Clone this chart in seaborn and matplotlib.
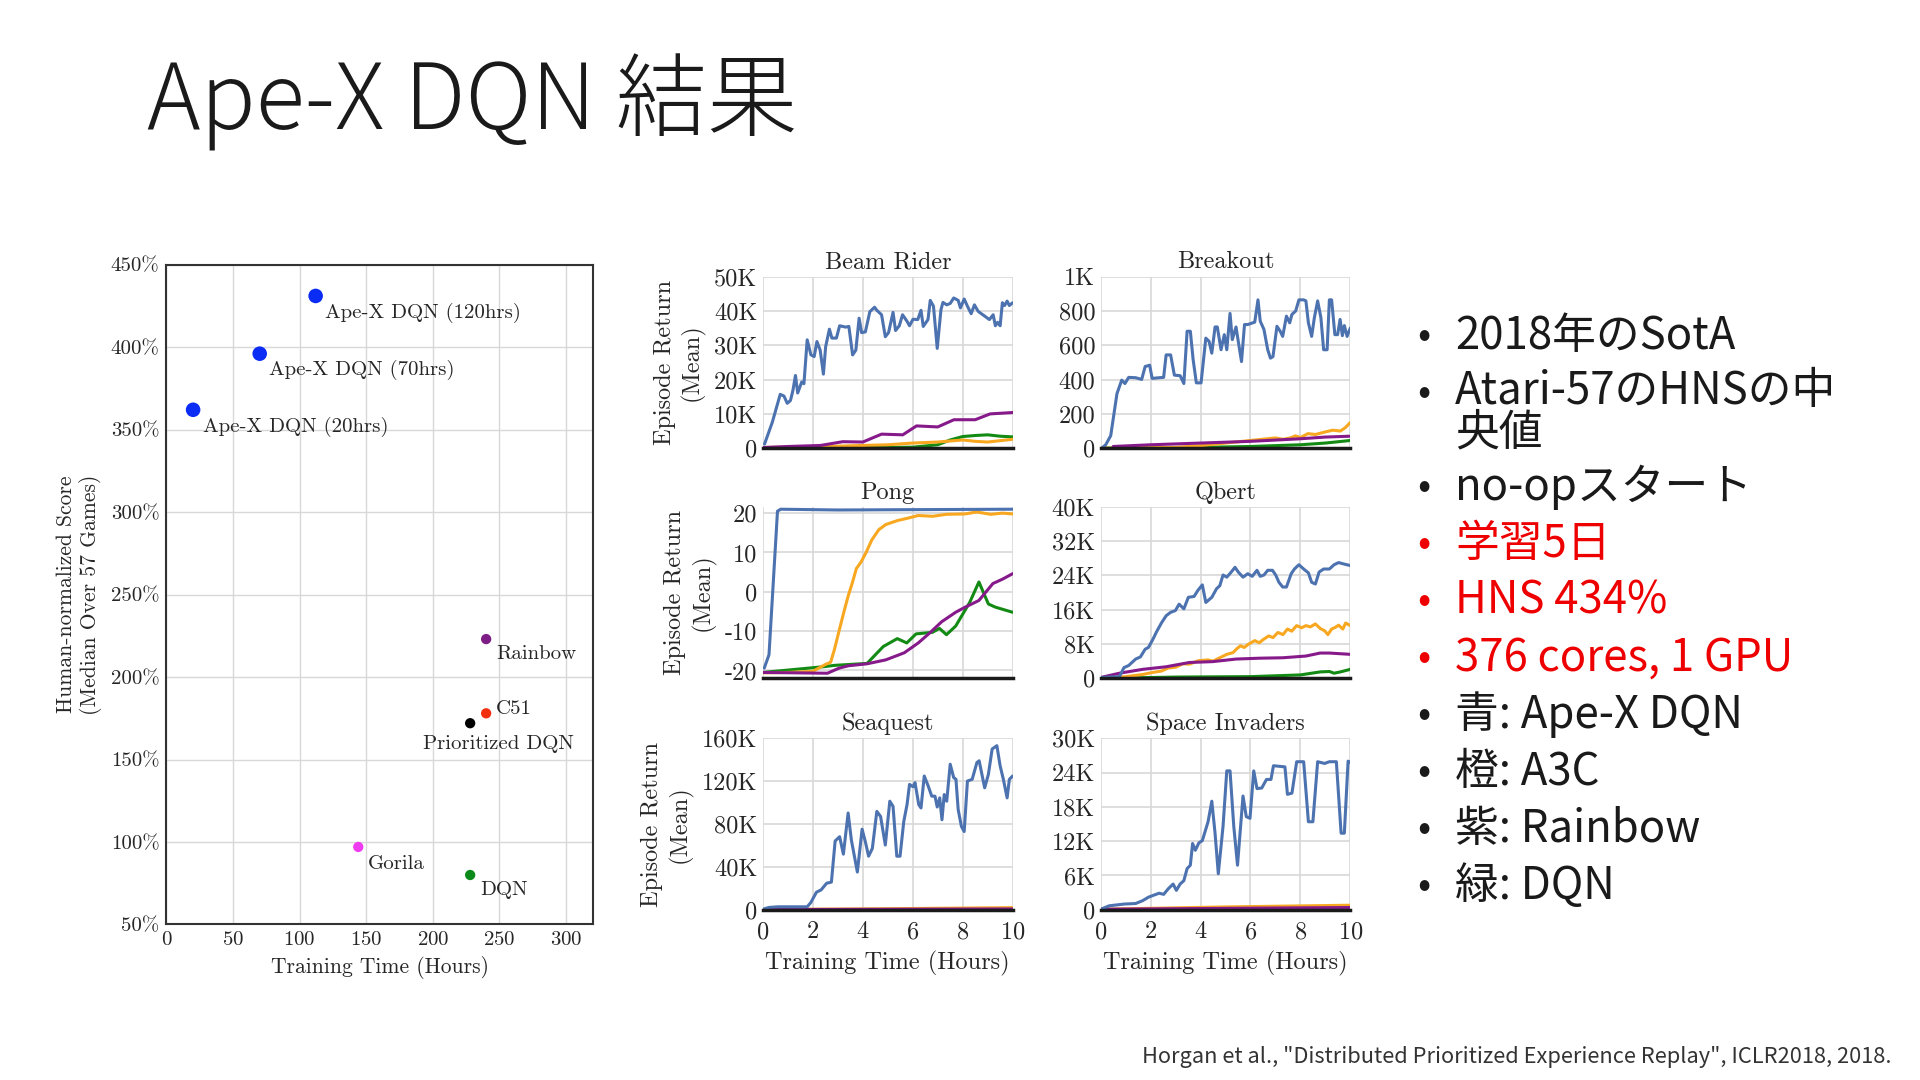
import numpy as np
import pandas as pd
import matplotlib
matplotlib.use("Agg")
import matplotlib.pyplot as plt
import seaborn as sns

# --- left scatter: median human-normalized score vs training time ---
ALGO_NAMES = ["Ape-X DQN (120hrs)", "Ape-X DQN (70hrs)", "Ape-X DQN (20hrs)",
              "Rainbow", "C51", "Prioritized DQN", "Gorila", "DQN"]
ALGO_HOURS = [112, 70, 20, 240, 240, 228, 144, 228]
ALGO_SCORES = [431, 396, 362, 223, 178, 172, 97, 80]
SCATTER_XTICKS = [0, 50, 100, 150, 200, 250, 300]
SCATTER_YTICKS = [50, 100, 150, 200, 250, 300, 350, 400, 450]

# --- learning curves, (hours, value); K-axes are stored in thousands ---
BEAM_APEX = [(0.06, 1.2), (0.37, 7.5), (0.69, 15.7), (0.84, 15.2), (0.97, 13.1), (1.1, 13.9),
             (1.2, 16.9), (1.3, 21.2), (1.39, 16.1), (1.55, 19.3), (1.64, 18.8), (1.77, 31.6),
             (1.92, 27.2), (2.05, 26.7), (2.16, 31.1), (2.29, 28.6), (2.42, 21.6), (2.51, 29.6),
             (2.66, 34.7), (2.76, 32.1), (2.94, 32.1), (3.07, 35.7), (3.31, 35.3), (3.44, 35.5),
             (3.59, 27.2), (3.72, 28.6), (3.85, 37.9), (3.95, 33.7), (4.1, 33.9), (4.28, 39.8),
             (4.47, 41.1), (4.56, 40.2), (4.75, 38.9), (4.9, 32.5), (5.03, 33.7), (5.21, 39.6),
             (5.31, 34.3), (5.46, 35.7), (5.59, 38.9), (5.77, 37.0), (5.87, 35.7), (6.01, 37.6),
             (6.2, 37.5), (6.33, 40.2), (6.42, 35.5), (6.61, 37.5), (6.7, 43.1), (6.83, 41.4),
             (6.98, 29.1), (7.13, 40.4), (7.21, 42.5), (7.36, 41.8), (7.5, 42.2), (7.64, 43.8),
             (7.82, 43.1), (7.91, 40.9), (8.06, 43.5), (8.19, 41.4), (8.34, 39.2), (8.47, 41.8),
             (8.62, 39.9), (8.75, 39.2), (8.94, 38.2), (9.07, 37.5), (9.22, 38.9), (9.31, 35.7),
             (9.4, 36.7), (9.5, 35.7), (9.59, 42.4), (9.68, 41.6), (9.78, 42.9), (9.87, 41.6),
             (10.0, 42.4)]
BEAM_A3C = [(0, 0.2), (2, 0.4), (4, 0.8), (5, 1.0), (6, 1.5), (7, 1.8), (8, 2.4), (8.5, 2.0),
            (9, 1.8), (9.5, 2.2), (10, 2.6)]
BEAM_RAINBOW = [(0, 0.2), (1, 0.5), (2.3, 0.8), (3.2, 1.9), (4.0, 1.8), (4.75, 4.1), (5.6, 3.9),
                (6.15, 6.5), (7.0, 6.2), (7.65, 8.3), (8.5, 8.3), (9.1, 10.0), (10, 10.4)]
BEAM_DQN = [(0, 0.0), (3, 0.1), (6, 0.3), (7, 1.0), (7.5, 2.4), (8, 3.4), (8.5, 3.7), (9, 3.9),
            (9.5, 3.5), (10, 3.3)]

BREAKOUT_APEX = [(0.04, 0), (0.2, 20), (0.4, 73), (0.65, 318), (0.84, 397), (0.97, 377), (1.12, 413),
                 (1.4, 411), (1.64, 401), (1.78, 476), (1.96, 484), (2.06, 407), (2.34, 411),
                 (2.52, 413), (2.62, 544), (2.8, 544), (2.95, 426), (3.18, 423), (3.33, 377),
                 (3.46, 682), (3.59, 682), (3.7, 519), (3.83, 381), (4.02, 381), (4.21, 642),
                 (4.34, 623), (4.45, 554), (4.58, 707), (4.67, 707), (4.82, 574), (4.95, 662),
                 (5.05, 574), (5.18, 786), (5.27, 633), (5.42, 707), (5.51, 623), (5.64, 505),
                 (5.76, 721), (5.89, 721), (6.17, 735), (6.3, 865), (6.39, 741), (6.54, 692),
                 (6.69, 574), (6.8, 525), (6.9, 534), (7.06, 711), (7.19, 682), (7.29, 652),
                 (7.44, 770), (7.57, 731), (7.66, 780), (7.81, 800), (7.94, 865), (8.13, 865),
                 (8.22, 859), (8.32, 731), (8.45, 652), (8.56, 762), (8.69, 859), (8.82, 762),
                 (8.93, 574), (9.07, 574), (9.16, 865), (9.25, 865), (9.38, 662), (9.49, 662),
                 (9.59, 751), (9.68, 656), (9.76, 715), (9.87, 652), (10.0, 701)]
BREAKOUT_A3C = [(0, 0), (3, 5), (4, 15), (5, 30), (6, 45), (7, 60), (7.3, 52), (7.6, 60), (7.8, 72),
                (8.0, 62), (8.3, 85), (8.6, 80), (9.0, 95), (9.3, 105), (9.6, 100), (9.8, 120),
                (10, 150)]
BREAKOUT_RAINBOW = [(0.5, 10), (2, 20), (4, 30), (6, 40), (8, 55), (9, 65), (10, 70)]
BREAKOUT_DQN = [(0, 0), (4, 5), (6, 10), (8, 20), (9, 30), (10, 45)]

PONG_APEX = [(0.05, -19.4), (0.24, -16.0), (0.58, 20.5), (0.71, 21.0), (3.0, 20.8), (10, 21.0)]
PONG_A3C = [(0, -20.6), (1, -20.5), (2, -20.2), (2.49, -18.5), (2.71, -17.9), (2.86, -14.7),
            (3.08, -9.1), (3.27, -4.4), (3.42, -0.9), (3.57, 2.1), (3.74, 5.9), (3.93, 7.6),
            (4.13, 10.0), (4.36, 13.2), (4.64, 15.8), (4.92, 17.1), (5.38, 18.1), (5.85, 18.8),
            (6.22, 19.4), (6.79, 19.2), (7.35, 19.7), (8.1, 19.8), (8.56, 20.3), (9.12, 19.7),
            (9.59, 20.0), (10, 19.8)]
PONG_RAINBOW = [(0, -20.5), (2.58, -20.7), (3.05, -19.4), (3.42, -18.8), (4.17, -18.3),
                (4.92, -17.3), (5.66, -15.5), (6.22, -13.0), (6.69, -10.4), (7.16, -7.6),
                (7.72, -5.2), (8.1, -3.9), (8.65, -2.2), (9.21, 2.1), (9.59, 3.2), (10, 4.6)]
PONG_DQN = [(0, -20.5), (2.49, -19.0), (2.86, -18.7), (4.17, -18.2), (4.82, -13.9), (5.38, -11.9),
            (5.76, -13.0), (6.13, -10.7), (6.79, -10.3), (7.07, -9.3), (7.35, -10.9), (7.72, -8.7),
            (8.28, -2.7), (8.65, 2.5), (9.03, -3.1), (9.31, -3.9), (10, -5.2)]

QBERT_APEX = [(0, 0.2), (0.75, 0.4), (0.93, 2.5), (1.12, 3.0), (1.4, 4.5), (1.59, 5.0), (1.78, 6.8),
              (1.91, 7.2), (2.09, 9.1), (2.24, 10.9), (2.43, 12.9), (2.62, 14.6), (2.8, 15.4),
              (2.99, 15.8), (3.14, 17.3), (3.33, 16.2), (3.51, 18.9), (3.74, 19.1), (3.89, 20.5),
              (4.07, 21.8), (4.21, 17.7), (4.45, 18.9), (4.64, 20.9), (4.77, 21.6), (4.9, 24.1),
              (5.05, 23.6), (5.23, 24.8), (5.38, 25.9), (5.51, 24.8), (5.7, 23.6), (5.89, 24.4),
              (6.07, 23.8), (6.26, 25.2), (6.39, 23.8), (6.54, 24.1), (6.69, 25.2), (6.88, 25.2),
              (7.01, 24.1), (7.14, 22.4), (7.29, 21.3), (7.44, 21.3), (7.63, 24.4), (7.76, 25.5),
              (7.94, 26.5), (8.13, 25.5), (8.32, 24.6), (8.45, 22.4), (8.6, 22.0), (8.75, 24.8),
              (8.93, 25.5), (9.16, 25.5), (9.35, 26.5), (9.53, 27.0), (9.72, 26.7), (10, 26.3)]
QBERT_A3C = [(0, 0), (1.0, 0.4), (1.68, 0.9), (2.1, 1.4), (2.43, 1.7), (2.7, 2.4), (3.0, 2.6),
             (3.3, 3.4), (3.55, 3.3), (3.9, 4.1), (4.3, 4.3), (4.5, 4.0), (4.7, 4.6), (5.05, 5.6),
             (5.3, 6.0), (5.45, 6.9), (5.6, 7.6), (5.75, 7.2), (5.9, 7.9), (6.17, 8.8), (6.35, 8.3),
             (6.5, 9.0), (6.73, 9.9), (6.9, 9.5), (7.1, 10.7), (7.3, 10.2), (7.48, 11.5),
             (7.65, 11.0), (7.85, 12.3), (8.05, 11.8), (8.22, 12.3), (8.4, 12.0), (8.6, 12.7),
             (8.8, 11.6), (8.97, 11.1), (9.1, 10.2), (9.25, 11.5), (9.4, 11.9), (9.53, 12.4),
             (9.7, 11.5), (9.81, 12.9), (10, 12.3)]
QBERT_RAINBOW = [(0, 0.2), (0.75, 1.2), (1.68, 2.1), (2.62, 2.7), (3.55, 3.7), (4.49, 3.9),
                 (5.42, 4.5), (6.36, 4.7), (7.29, 4.8), (8.22, 5.2), (8.79, 5.9), (9.16, 5.9),
                 (10, 5.6)]
QBERT_DQN = [(0, 0), (3, 0.3), (6, 0.4), (8, 0.8), (8.79, 1.5), (9.16, 1.6), (9.35, 1.2),
             (9.6, 1.5), (10, 2.1)]

SEAQUEST_APEX = [(0, 0.6), (0.24, 2.2), (0.6, 2.8), (1.77, 2.8), (1.92, 6.9), (2.14, 16.4),
                 (2.33, 18.6), (2.55, 24.8), (2.74, 25.8), (2.89, 64.2), (3.07, 68.2), (3.22, 51.9),
                 (3.41, 90.3), (3.54, 65.1), (3.78, 35.2), (3.97, 75.2), (4.1, 63.5), (4.23, 50.0),
                 (4.38, 57.2), (4.56, 91.8), (4.71, 87.1), (4.9, 60.4), (5.08, 101.3), (5.21, 96.5),
                 (5.36, 50.0), (5.49, 50.0), (5.64, 82.4), (5.77, 98.1), (5.87, 117.0),
                 (6.01, 114.8), (6.09, 118.6), (6.24, 98.1), (6.33, 95.0), (6.46, 124.8),
                 (6.61, 116.0), (6.76, 106.0), (6.89, 106.0), (6.98, 95.9), (7.08, 104.4),
                 (7.17, 84.0), (7.26, 107.5), (7.36, 101.3), (7.5, 135.8), (7.64, 123.3),
                 (7.73, 121.7), (7.82, 93.4), (7.95, 77.7), (8.06, 73.0), (8.19, 120.1),
                 (8.38, 121.7), (8.57, 137.4), (8.66, 139.0), (8.88, 113.8), (9.03, 126.4),
                 (9.18, 150.0), (9.37, 153.1), (9.5, 134.3), (9.63, 121.7), (9.78, 104.4),
                 (9.87, 121.7), (10, 124.8)]
SEAQUEST_A3C = [(0, 0.3), (5, 1.0), (10, 2.0)]
SEAQUEST_RAINBOW = [(0, 0.2), (10, 0.8)]
SEAQUEST_DQN = [(0, 0.1), (10, 0.4)]

INVADERS_APEX = [(0, 0.1), (0.34, 0.7), (0.93, 1.0), (1.4, 1.1), (1.68, 1.6), (1.91, 2.2),
                 (2.09, 2.5), (2.34, 2.9), (2.52, 2.7), (2.71, 3.7), (2.9, 4.5), (3.03, 3.4),
                 (3.18, 4.5), (3.33, 5.1), (3.46, 7.2), (3.59, 7.8), (3.68, 11.6), (3.79, 10.4),
                 (3.93, 11.7), (4.07, 12.1), (4.3, 15.4), (4.45, 19.0), (4.58, 13.4), (4.71, 6.3),
                 (4.9, 14.6), (5.05, 24.3), (5.18, 24.3), (5.33, 14.6), (5.48, 7.8), (5.7, 19.9),
                 (5.83, 16.3), (5.98, 16.0), (6.13, 24.3), (6.26, 21.2), (6.45, 21.3), (6.64, 22.8),
                 (6.82, 22.8), (6.92, 25.2), (7.38, 25.0), (7.48, 20.2), (7.66, 20.4), (7.85, 25.9),
                 (8.13, 25.9), (8.32, 15.4), (8.5, 15.4), (8.69, 25.9), (8.97, 25.6), (9.16, 25.9),
                 (9.44, 25.9), (9.63, 13.4), (9.76, 13.4), (9.91, 26.0), (10, 25.8)]
INVADERS_A3C = [(0, 0.1), (5, 0.5), (10, 0.8)]
INVADERS_RAINBOW = [(0, 0.1), (10, 0.4)]
INVADERS_DQN = [(0, 0.0), (10, 0.2)]

BEAM_TICKS, BEAM_LABELS = [0, 10, 20, 30, 40, 50], ["0", "10K", "20K", "30K", "40K", "50K"]
BREAKOUT_TICKS, BREAKOUT_LABELS = [0, 200, 400, 600, 800, 1000], ["0", "200", "400", "600", "800", "1K"]
PONG_TICKS, PONG_LABELS = [-20, -10, 0, 10, 20], ["-20", "-10", "0", "10", "20"]
QBERT_TICKS, QBERT_LABELS = [0, 8, 16, 24, 32, 40], ["0", "8K", "16K", "24K", "32K", "40K"]
SEAQUEST_TICKS, SEAQUEST_LABELS = [0, 40, 80, 120, 160], ["0", "40K", "80K", "120K", "160K"]
INVADERS_TICKS, INVADERS_LABELS = [0, 6, 12, 18, 24, 30], ["0", "6K", "12K", "18K", "24K", "30K"]
HOUR_TICKS = [0, 2, 4, 6, 8, 10]

BULLETS = ["2018年のSotA", "Atari-57のHNSの中\n央値", "no-opスタート", "学習5日", "HNS 434%",
           "376 cores, 1 GPU", "青: Ape-X DQN", "橙: A3C", "紫: Rainbow", "緑: DQN"]
BULLET_RED = [False, False, False, True, True, True, False, False, False, False]

# styling
SCATTER_COLORS = ["#0a2cf5", "#0a2cf5", "#0a2cf5", "#7d1d86", "#f2300f", "#000000", "#f03cf0", "#0b8a1a"]
SCATTER_SIZES = [110, 110, 110, 55, 55, 55, 55, 55]
LABEL_OFFSETS = [(7, -12, "left", "center"), (7, -12, "left", "center"), (7, -12, "left", "center"),
                 (7, -11, "left", "center"), (7, 3, "left", "center"), (20, -15, "center", "center"),
                 (7, -12, "left", "center"), (7, -11, "left", "center")]
LINE_COLORS = {"DQN": "#138a13", "A3C": "#f8a820", "Rainbow": "#861a8a", "Ape-X DQN": "#4c72b0"}
DRAW_ORDER = ["DQN", "A3C", "Rainbow", "Ape-X DQN"]

sns.set_theme(style="white")
plt.rcParams["font.family"] = ["cmr10", "DejaVu Serif"]
plt.rcParams["axes.formatter.use_mathtext"] = True
plt.rcParams["axes.unicode_minus"] = False
JP = ["Noto Sans CJK JP", "DejaVu Sans"]
INK = "#262626"
GRID = "#d8d8d8"
PANEL_FS = 17.5

fig = plt.figure(figsize=(19.2, 10.8), dpi=100)
fig.patch.set_facecolor("white")

fig.text(0.0765, 0.905, "Ape-X DQN 結果", family=JP, fontsize=65.5, fontweight=300,
         color="#1a1a1a", va="center")

# scatter
ax = fig.add_axes([0.0867, 0.144, 0.222, 0.611])
sdf = pd.DataFrame({"name": ALGO_NAMES, "hours": ALGO_HOURS, "score": ALGO_SCORES})
sns.scatterplot(data=sdf, x="hours", y="score", hue="name", palette=SCATTER_COLORS,
                size="name", sizes=dict(zip(ALGO_NAMES, SCATTER_SIZES)),
                linewidth=0, legend=False, ax=ax, zorder=3)
for name, h, s, (dx, dy, ha, va) in zip(ALGO_NAMES, ALGO_HOURS, ALGO_SCORES, LABEL_OFFSETS):
    ax.annotate(name, (h, s), xytext=(dx, dy), textcoords="offset points", ha=ha, va=va,
                fontsize=15, color=INK)
ax.set_xlim(0, 320)
ax.set_ylim(50, 450)
ax.set_xticks(SCATTER_XTICKS)
ax.set_yticks(SCATTER_YTICKS)
ax.set_yticklabels([f"{v}%" for v in SCATTER_YTICKS])
ax.tick_params(labelsize=15, colors=INK, length=0, pad=5)
ax.grid(True, color=GRID, linewidth=1)
for sp in ax.spines.values():
    sp.set_color("#333333")
    sp.set_linewidth(1.5)
ax.set_xlabel("Training Time (Hours)", fontsize=15.5, color=INK, labelpad=5)
ax.set_ylabel("Human-normalized Score\n(Median Over 57 Games)", fontsize=15.5, color=INK, labelpad=6)

# learning curves
panels = [
    ("Beam Rider", [BEAM_DQN, BEAM_A3C, BEAM_RAINBOW, BEAM_APEX], BEAM_TICKS, BEAM_LABELS, (0, 50)),
    ("Breakout", [BREAKOUT_DQN, BREAKOUT_A3C, BREAKOUT_RAINBOW, BREAKOUT_APEX], BREAKOUT_TICKS, BREAKOUT_LABELS, (0, 1000)),
    ("Pong", [PONG_DQN, PONG_A3C, PONG_RAINBOW, PONG_APEX], PONG_TICKS, PONG_LABELS, (-22, 21.6)),
    ("Qbert", [QBERT_DQN, QBERT_A3C, QBERT_RAINBOW, QBERT_APEX], QBERT_TICKS, QBERT_LABELS, (0, 40)),
    ("Seaquest", [SEAQUEST_DQN, SEAQUEST_A3C, SEAQUEST_RAINBOW, SEAQUEST_APEX], SEAQUEST_TICKS, SEAQUEST_LABELS, (0, 160)),
    ("Space Invaders", [INVADERS_DQN, INVADERS_A3C, INVADERS_RAINBOW, INVADERS_APEX], INVADERS_TICKS, INVADERS_LABELS, (0, 30)),
]
lefts = [0.3974, 0.5733]
bottoms = [0.585, 0.3719, 0.1576]
for i, (title, curves, ticks, labels, ylim) in enumerate(panels):
    row, col = divmod(i, 2)
    pax = fig.add_axes([lefts[col], bottoms[row], 0.130, 0.1588])
    rows = []
    for algo, pts in zip(DRAW_ORDER, curves):
        for h, v in pts:
            rows.append((algo, h, v))
    df = pd.DataFrame(rows, columns=["algo", "hours", "value"])
    sns.lineplot(data=df, x="hours", y="value", hue="algo", hue_order=DRAW_ORDER,
                 palette=LINE_COLORS, estimator=None, sort=False, legend=False,
                 linewidth=2.2, ax=pax)
    pax.set_xlim(0, 10)
    pax.set_ylim(*ylim)
    pax.set_xticks(HOUR_TICKS)
    pax.set_yticks(ticks)
    pax.set_yticklabels(labels)
    pax.grid(True, color=GRID, linewidth=1.2)
    for name, sp in pax.spines.items():
        sp.set_visible(name == "bottom")
    pax.spines["bottom"].set_color("#1a1a1a")
    pax.spines["bottom"].set_linewidth(2.5)
    pax.tick_params(labelsize=PANEL_FS, colors=INK, length=0, pad=4)
    pax.tick_params(axis="x", pad=8)
    pax.set_title(title, fontsize=PANEL_FS, color=INK, pad=6)
    if row == 2:
        pax.set_xlabel("Training Time (Hours)", fontsize=PANEL_FS, color=INK, labelpad=6)
    else:
        pax.set_xticklabels([])
        pax.set_xlabel("")
    if col == 0:
        pax.set_ylabel("Episode Return\n(Mean)", fontsize=PANEL_FS, color=INK, labelpad=7)
    else:
        pax.set_ylabel("")

# bullet list
BODY_FS = 31.5
y = 1 - 336 / 1080
for text, red in zip(BULLETS, BULLET_RED):
    color = "#ee0000" if red else "#1a1a1a"
    fig.text(1424 / 1920, y, "•", family=JP, fontsize=28, color=color, ha="center", va="center")
    n_extra = text.count("\n")
    fig.text(1455 / 1920, y - n_extra * 18.5 / 1080, text, family=JP, fontsize=BODY_FS,
             color=color, va="center", linespacing=0.86)
    y -= (57 + 37 * n_extra) / 1080

fig.text(1892 / 1920, 1 - 1057 / 1080,
         "Horgan et al., \"Distributed Prioritized Experience Replay\", ICLR2018, 2018.",
         family=JP, fontsize=15.7, color="#333333", ha="right", va="center")

fig.savefig("out.png", dpi=100, facecolor="white")
